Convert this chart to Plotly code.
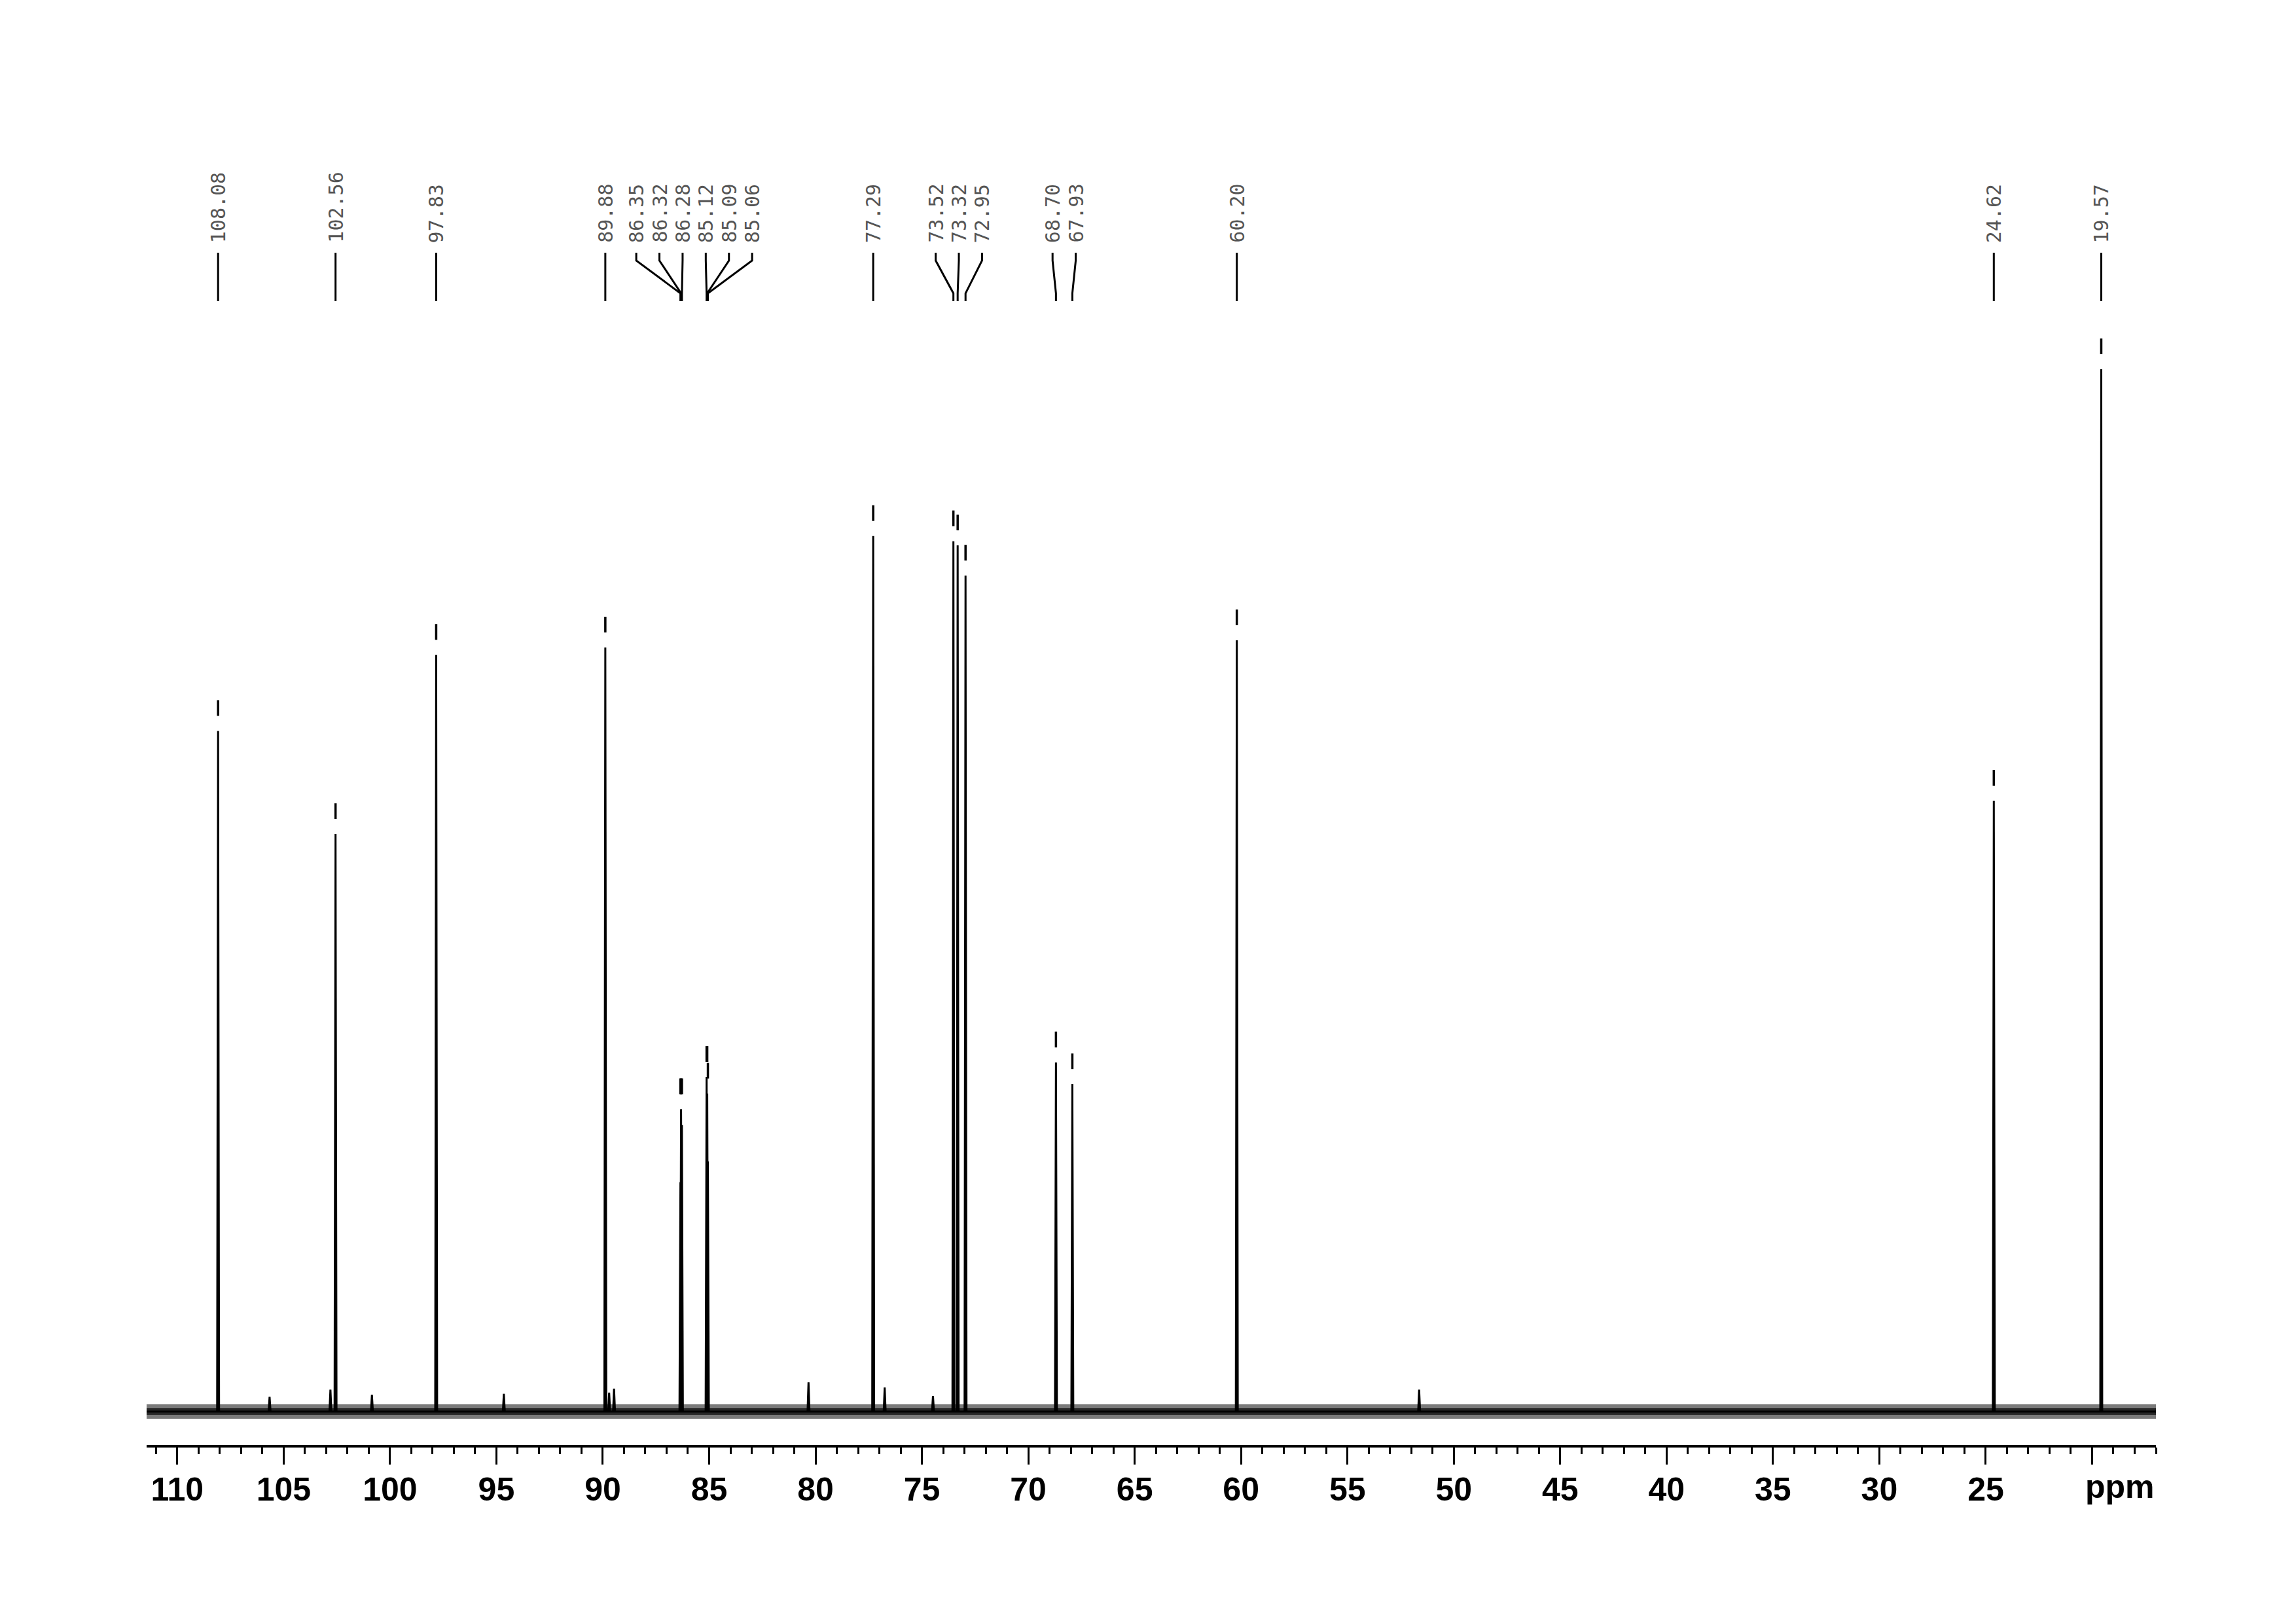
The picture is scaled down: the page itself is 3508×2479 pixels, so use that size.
import plotly.graph_objects as go

# ---------------- data ----------------
label_ppm = [108.08, 102.56, 97.83, 89.88, 86.35, 86.32, 86.28, 85.12, 85.09, 85.06,
             77.29, 73.52, 73.32, 72.95, 68.70, 67.93, 60.20, 24.62, 19.57]

peak_ppm = [108.08, 102.56, 97.83, 89.88, 86.35, 86.32, 86.28, 85.12, 85.09, 85.06,
            77.29, 73.52, 73.32, 72.95, 68.70, 67.93, 60.20, 24.62, 19.57]
peak_height = [65.3, 55.4, 72.6, 73.3, 22.0, 29.0, 27.5, 32.1, 30.5, 24.0,
               84.0, 83.5, 83.1, 80.2, 33.5, 31.4, 74.0, 58.6, 100.0]

minor_ppm = [105.66, 102.80, 100.85, 94.65, 89.70, 89.47, 80.33, 76.75, 74.48, 51.63]
minor_height = [1.4, 2.1, 1.6, 1.7, 1.8, 2.2, 2.8, 2.3, 1.5, 2.1]

major_tick_vals = [110, 105, 100, 95, 90, 85, 80, 75, 70, 65, 60, 55, 50, 45, 40, 35, 30, 25, 20]
major_tick_text = ["110", "105", "100", "95", "90", "85", "80", "75", "70", "65", "60",
                   "55", "50", "45", "40", "35", "30", "25", ""]
axis_unit = "ppm"
x_range = [111.44, 17.0]

# ---------------- layout geometry ----------------
W, H = 3508, 2479
PAGE_OFFSET = 8           # default body margin of the html page
ML = 224 - PAGE_OFFSET
PLOT_W = 3070
MR = W - ML - PLOT_W
MT = 100 - PAGE_OFFSET
BOTTOM_PX = 2207          # axis line row (page pixels)
MB = H - (BOTTOM_PX - PAGE_OFFSET)
PX_PER_PPM = PLOT_W / (x_range[0] - x_range[1])
BASE_PX = 2156.0          # baseline row (page pixels)
PX_PER_UNIT = 15.92


def y_at(px):
    return (BASE_PX - px) / PX_PER_UNIT


y_range = [y_at(BOTTOM_PX), y_at(100)]

# ---------------- spectrum trace ----------------
all_peaks = sorted(zip(peak_ppm + minor_ppm, peak_height + minor_height),
                   key=lambda t: -t[0])
half_w = 0.045
spec_x = [x_range[0]]
spec_y = [0.0]
for p, h in all_peaks:
    spec_x += [p + half_w, p, p - half_w]
    spec_y += [0.0, h, 0.0]
spec_x.append(x_range[1])
spec_y.append(0.0)

fig = go.Figure()

# baseline noise band (drawn as a thick grey baseline with a darker core)
fig.add_trace(go.Scatter(x=x_range, y=[0, 0], mode="lines",
                         line=dict(color="#7a7a7a", width=22),
                         hoverinfo="skip", showlegend=False))
fig.add_trace(go.Scatter(x=x_range, y=[0, 0], mode="lines",
                         line=dict(color="#262626", width=10),
                         hoverinfo="skip", showlegend=False))
fig.add_trace(go.Scatter(x=spec_x, y=spec_y, mode="lines",
                         line=dict(color="black", width=3),
                         hoverinfo="skip", showlegend=False))

# ---------------- peak markers (short dashes above peaks) ----------------
dash_x, dash_y = [], []
for s in label_ppm:
    hmax = max(h for p, h in zip(peak_ppm, peak_height) if abs(p - s) <= 0.05)
    dash_x += [s, s, None]
    dash_y += [hmax + 23 / PX_PER_UNIT, hmax + 47 / PX_PER_UNIT, None]
fig.add_trace(go.Scatter(x=dash_x, y=dash_y, mode="lines",
                         line=dict(color="black", width=3.5),
                         hoverinfo="skip", showlegend=False))

# ---------------- label positions (spread to avoid overlaps) ----------------
min_sep = 35.4 / PX_PER_PPM
order = sorted(label_ppm, reverse=True)
clusters = [[v] for v in order]


def positions(cl):
    c = sum(cl) / len(cl)
    n = len(cl)
    return [c + ((n - 1) / 2 - i) * min_sep for i in range(n)]


changed = True
while changed:
    changed = False
    for i in range(len(clusters) - 1):
        a = positions(clusters[i])
        b = positions(clusters[i + 1])
        if a[-1] - b[0] < min_sep - 1e-9:
            clusters[i] = clusters[i] + clusters[i + 1]
            del clusters[i + 1]
            changed = True
            break

lab_pos = {}
for cl in clusters:
    for v, pos in zip(cl, positions(cl)):
        lab_pos[v] = pos

line_x, line_y = [], []
for v in order:
    lp = lab_pos[v]
    line_x += [lp, lp, v, v, None]
    line_y += [y_at(386), y_at(398), y_at(448), y_at(460), None]
fig.add_trace(go.Scatter(x=line_x, y=line_y, mode="lines",
                         line=dict(color="black", width=3),
                         hoverinfo="skip", showlegend=False, cliponaxis=False))

annotations = []
for v in order:
    annotations.append(dict(x=lab_pos[v], y=y_at(373), xref="x", yref="y",
                            text=f"{v:.2f}", showarrow=False, textangle=-90,
                            xanchor="center", yanchor="bottom",
                            font=dict(family="DejaVu Sans Mono", size=30, color="#555555")))

annotations.append(dict(x=x_range[1], y=0, xref="x", yref="paper", text=axis_unit,
                        showarrow=False, xanchor="right", yanchor="top", yshift=-34,
                        font=dict(family="Liberation Sans, Arial", size=50,
                                  color="black", weight="bold")))

fig.update_layout(
    width=W, height=H,
    margin=dict(l=ML, r=MR, t=MT, b=MB),
    paper_bgcolor="white", plot_bgcolor="white",
    showlegend=False,
    annotations=annotations,
    xaxis=dict(range=x_range, showgrid=False, zeroline=False,
               showline=True, linecolor="black", linewidth=3.5,
               ticks="outside", ticklen=26, tickwidth=3, tickcolor="black",
               tickvals=major_tick_vals, ticktext=major_tick_text,
               tickfont=dict(family="Liberation Sans, Arial", size=50,
                             color="black", weight="bold"),
               ticklabelstandoff=-5,
               minor=dict(dtick=1, tick0=0, ticks="outside", ticklen=10,
                          tickwidth=3, tickcolor="black"),
               fixedrange=True),
    yaxis=dict(range=y_range, visible=False, fixedrange=True),
)

fig.write_html("out.html")
